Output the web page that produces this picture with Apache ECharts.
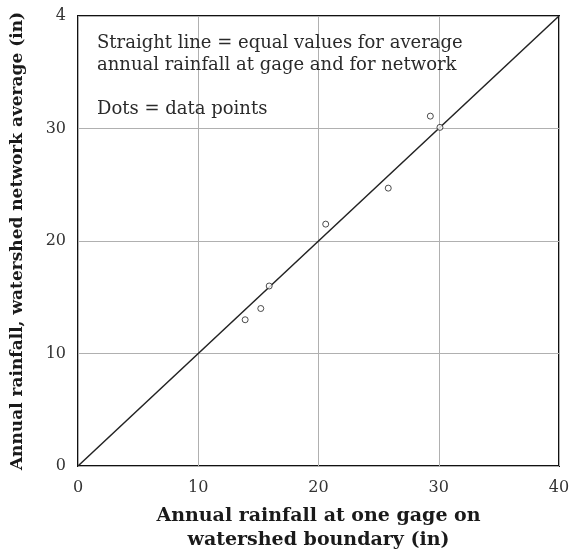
<!DOCTYPE html>
<html><head><meta charset="utf-8">
<script src="https://cdn.jsdelivr.net/npm/echarts@6/dist/echarts.min.js"></script>
<style>html,body{margin:0;padding:0;background:#fff}#c{width:570px;height:557px}</style>
</head><body><div id="c"></div>
<script>
const gageValues = [13.9, 15.2, 15.9, 20.6, 25.8, 29.3, 30.1];
const networkValues = [13.0, 14.0, 16.0, 21.5, 24.7, 31.1, 30.1];
const equalLine = [[0, 0], [40, 40]];
const xTicks = [0, 10, 20, 30, 40];
const yTickLabels = {0: '0', 10: '10', 20: '20', 30: '30', 40: '4'};
const noteLines = ['Straight line = equal values for average', 'annual rainfall at gage and for network', '', 'Dots = data points'];
const xTitle = 'Annual rainfall at one gage on\nwatershed boundary (in)';
const yTitle = 'Annual rainfall, watershed network average (in)';

const font = '"DejaVu Serif", "Liberation Serif", serif';
const chart = echarts.init(document.getElementById('c'));
chart.setOption({
  animation: false,
  backgroundColor: '#fff',
  grid: {left: 78, right: 11, top: 16, bottom: 91, show: true, borderColor: '#111', borderWidth: 2,
    backgroundColor: 'transparent', containLabel: false, outerBoundsMode: 'none'},
  graphic: [{
    type: 'text', left: 97, top: 32, z: 10,
    style: {text: noteLines.join('\n'), font: '18px ' + font, fill: '#2a2a2a', lineHeight: 22}
  }],
  xAxis: {
    type: 'value', min: 0, max: 40, interval: 10,
    name: xTitle, nameLocation: 'middle', nameGap: 38,
    nameTextStyle: {fontFamily: font, fontWeight: 'bold', fontSize: 19, color: '#1a1a1a', lineHeight: 24},
    axisLine: {show: false}, axisTick: {show: false},
    axisLabel: {fontFamily: font, fontSize: 16, color: '#333', margin: 14,
      formatter: v => xTicks.includes(v) ? String(v) : ''},
    splitLine: {show: true, lineStyle: {color: '#b0b0b0', width: 1}}
  },
  yAxis: {
    type: 'value', min: 0, max: 40, interval: 10,
    name: yTitle, nameLocation: 'middle', nameGap: 52,
    nameTextStyle: {fontFamily: font, fontWeight: 'bold', fontSize: 17, color: '#1a1a1a'},
    axisLine: {show: false}, axisTick: {show: false},
    axisLabel: {fontFamily: font, fontSize: 16, color: '#333', margin: 12,
      formatter: v => yTickLabels[v] !== undefined ? yTickLabels[v] : ''},
    splitLine: {show: true, lineStyle: {color: '#b0b0b0', width: 1}}
  },
  series: [{
    type: 'line', data: equalLine, symbol: 'none',
    lineStyle: {color: '#222', width: 1.5}, z: 3
  }, {
    type: 'scatter', data: gageValues.map((g, i) => [g, networkValues[i]]),
    symbol: 'circle', symbolSize: 6,
    itemStyle: {color: '#fff', borderColor: '#222', borderWidth: 1}, z: 4
  }]
});
</script></body></html>
